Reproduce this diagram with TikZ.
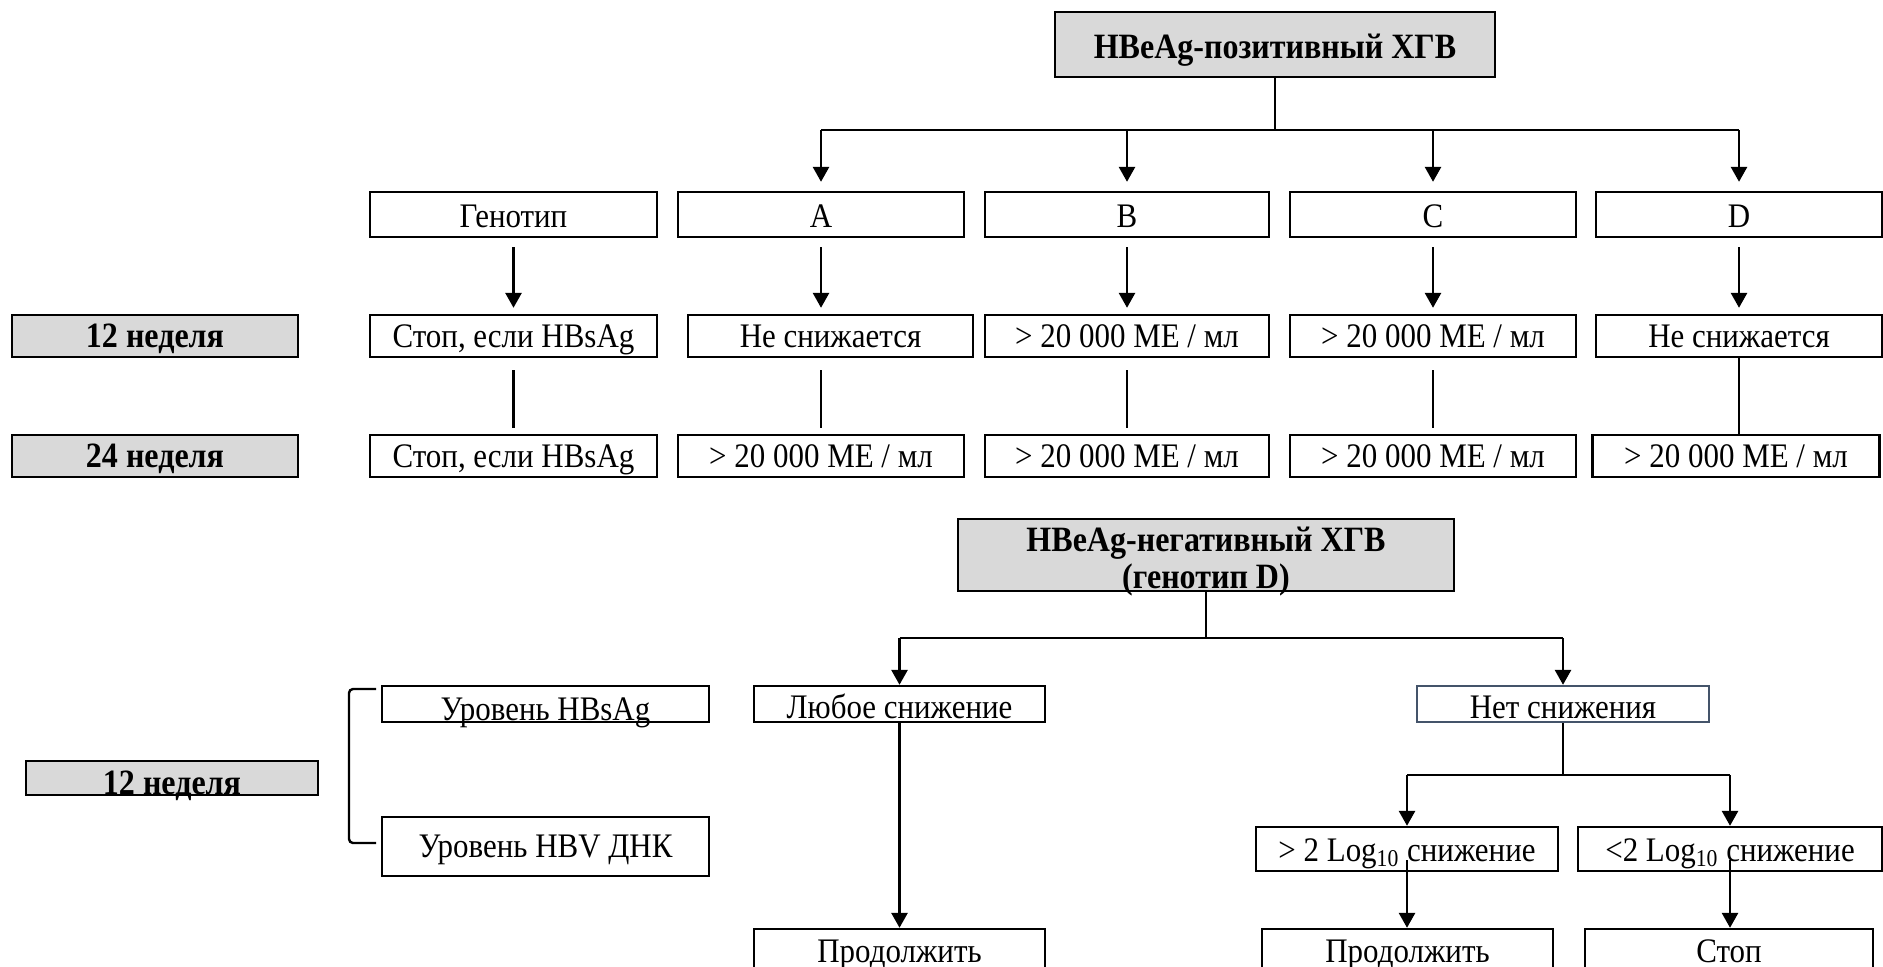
\documentclass[tikz,border=0pt]{standalone}
\usepackage{fontspec}
\setmainfont{Liberation Serif}[FakeStretch=0.9]
\usetikzlibrary{arrows.meta}
\definecolor{gfill}{HTML}{D9D9D9}
\definecolor{slate}{HTML}{44546A}
\tikzset{
  box/.style={draw=black, line width=1.2pt, inner sep=0pt, fill=white, font=\fontsize{17.2}{20}\selectfont},
  gbox/.style={box, fill=gfill, font=\fontsize{17.8}{21}\selectfont\bfseries},
  hd/.style 2 args={text height=#1, text depth=#2},
  conn/.style={line width=1.4pt},
  arr/.style={conn, -{Triangle[length=7.5pt,width=8pt]}},
  brk/.style={line width=1.2pt, rounded corners=2pt}
}
\begin{document}
\begin{tikzpicture}[x=0.5pt, y=-0.5pt]
\useasboundingbox (0,0) rectangle (1883,966);

% ---- HBeAg-positive ----
\node[gbox, minimum width=220pt, hd={23pt}{9.5pt}] (pos) at (1275,44.5) {HBeAg-позитивный ХГВ};

\node[box, minimum width=143.5pt, hd={17.5pt}{5pt}] (gen) at (513.5,214.5) {Генотип};
\node[box, minimum width=143pt, hd={17.5pt}{5pt}] (a) at (821,214.5) {A};
\node[box, minimum width=142pt, hd={17.5pt}{5pt}] (b) at (1127,214.5) {B};
\node[box, minimum width=143pt, hd={17.5pt}{5pt}] (c) at (1433,214.5) {C};
\node[box, minimum width=143pt, hd={17.5pt}{5pt}] (d) at (1739,214.5) {D};

\node[gbox, minimum width=143pt, hd={16pt}{5pt}] (w12) at (155,336) {12 неделя};
\node[box, minimum width=143.5pt, hd={16pt}{5pt}] (s12) at (513.5,336) {Стоп, если HBsAg};
\node[box, minimum width=142.5pt, hd={16pt}{5pt}] (a12) at (830.5,336) {Не снижается};
\node[box, minimum width=142pt, hd={16pt}{5pt}] (b12) at (1127,336) {> 20 000 МЕ / мл};
\node[box, minimum width=143pt, hd={16pt}{5pt}] (c12) at (1433,336) {> 20 000 МЕ / мл};
\node[box, minimum width=143pt, hd={16pt}{5pt}] (d12) at (1739,336) {Не снижается};

\node[gbox, minimum width=143pt, hd={16pt}{5pt}] (w24) at (155,456) {24 неделя};
\node[box, minimum width=143.5pt, hd={16pt}{5pt}] (s24) at (513.5,456) {Стоп, если HBsAg};
\node[box, minimum width=143pt, hd={16pt}{5pt}] (a24) at (821,456) {> 20 000 МЕ / мл};
\node[box, minimum width=142pt, hd={16pt}{5pt}] (b24) at (1127,456) {> 20 000 МЕ / мл};
\node[box, minimum width=143pt, hd={16pt}{5pt}] (c24) at (1433,456) {> 20 000 МЕ / мл};
\node[box, minimum width=143.5pt, hd={16pt}{5pt}] (d24) at (1736,456) {> 20 000 МЕ / мл};

\draw[conn] (pos.south) -- (pos.south |- 0,130) coordinate (pj);
\draw[conn] (a.north |- pj) -- (d.north |- pj);
\foreach \n in {a,b,c,d}
  \draw[arr, shorten >=4.5pt] (\n.north |- pj) -- (\n.north);

\draw[arr, shorten <=4.5pt, shorten >=3pt] (gen.south) -- (gen.south |- s12.north);
\draw[arr, shorten <=4.5pt, shorten >=3pt] (a.south) -- (a.south |- a12.north);
\draw[arr, shorten <=4.5pt, shorten >=3pt] (b.south) -- (b12.north);
\draw[arr, shorten <=4.5pt, shorten >=3pt] (c.south) -- (c12.north);
\draw[arr, shorten <=4.5pt, shorten >=3pt] (d.south) -- (d12.north);

\draw[conn, shorten <=6pt, shorten >=3pt] (s12.south) -- (s12.south |- s24.north);
\draw[conn, shorten <=6pt, shorten >=3pt] (a.south |- a12.south) -- (a.south |- a24.north);
\draw[conn, shorten <=6pt, shorten >=3pt] (b12.south) -- (b24.north);
\draw[conn, shorten <=6pt, shorten >=3pt] (c12.south) -- (c24.north);
\draw[conn] (d12.south) -- (d12.south |- d24.north);

% ---- HBeAg-negative ----
\node[gbox, minimum width=248pt, minimum height=36pt] (neg) at (1206,555) {};
\node[align=center, inner sep=0pt, anchor=south, yshift=-2pt, font=\fontsize{17.8}{18.5}\selectfont\bfseries] (negt) at (neg.south) {HBeAg-негативный ХГВ\\(генотип D)};

\node[box, minimum width=145.5pt, hd={16pt}{2pt}] (any) at (899.5,704) {Любое снижение};
\node[box, draw=slate, minimum width=146pt, hd={16pt}{2pt}] (nos) at (1563,704) {Нет снижения};
\node[box, minimum width=163.5pt, hd={17pt}{1pt}] (uh) at (545.5,704) {Уровень HBsAg};
\node[box, minimum width=163.5pt, hd={20pt}{9.5pt}] (ud) at (545.5,846.5) {Уровень HBV ДНК};
\node[gbox, minimum width=146pt, hd={16.5pt}{0.5pt}] (w12b) at (172,778) {12 неделя};

\node[box, minimum width=151pt, hd={17pt}{5pt}] (gt) at (1407,849) {> 2 Log\textsubscript{10} снижение};
\node[box, minimum width=152pt, hd={17pt}{5pt}] (lt) at (1730,849) {<2 Log\textsubscript{10} снижение};

\node[box, minimum width=145.5pt, hd={16.5pt}{4pt}] (cont1) at (899.5,949.5) {Продолжить};
\node[box, minimum width=145.5pt, hd={16.5pt}{4pt}] (cont2) at (1407.5,949.5) {Продолжить};
\node[box, minimum width=144pt, hd={16.5pt}{4pt}] (stop) at (1729,949.5) {Стоп};

\draw[brk] (376,689) -- (349,689) -- (349,843) -- (376,843);

\draw[conn] (neg.south) -- (neg.south |- 0,638) coordinate (nj);
\draw[conn] (any.north |- nj) -- (nos.north |- nj);
\draw[arr] (any.north |- nj) -- (any.north);
\draw[arr] (nos.north |- nj) -- (nos.north);

\draw[arr] (any.south) -- (any.south |- cont1.north);

\draw[conn] (nos.south) -- (nos.south |- 0,775) coordinate (sj);
\draw[conn] (gt.north |- sj) -- (lt.north |- sj);
\draw[arr] (gt.north |- sj) -- (gt.north);
\draw[arr] (lt.north |- sj) -- (lt.north);

\draw[arr, shorten <=-6pt] (gt.south) -- (gt.south |- cont2.north);
\draw[arr, shorten <=-6pt] (lt.south) -- (lt.south |- stop.north);
\end{tikzpicture}
\end{document}
